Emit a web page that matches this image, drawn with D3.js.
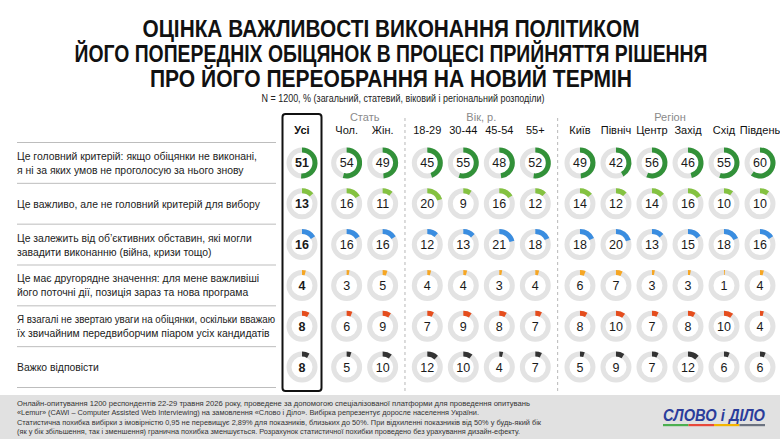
<!DOCTYPE html>
<html lang="uk">
<head>
<meta charset="UTF-8">
<title>Оцінка важливості виконання обіцянок</title>
<script src="https://d3js.org/d3.v7.min.js"></script>
<style>
  body { margin: 0; background: #fff; }
  svg { display: block; font-family: "Liberation Sans", Arial, sans-serif; }
</style>
</head>
<body>
<svg id="chart" width="780" height="439"></svg>
<script>
// --- data ---
const columns = ["Усі", "Чол.", "Жін.", "18-29", "30-44", "45-54", "55+", "Київ", "Північ", "Центр", "Захід", "Схід", "Південь"];
// slot index of each column (groups are separated by a wider gap)
const slots = [0, 1.24, 2.24, 3.48, 4.48, 5.48, 6.48, 7.72, 8.72, 9.72, 10.72, 11.72, 12.72];
const groups = [
  { name: "Стать", from: 1, to: 2 },
  { name: "Вік, р.", from: 3, to: 6 },
  { name: "Регіон", from: 7, to: 12 }
];
const answers = [
  ["Це головний критерій: якщо обіцянки не виконані,", "я ні за яких умов не проголосую за нього знову"],
  ["Це важливо, але не головний критерій для вибору"],
  ["Це залежить від об’єктивних обставин, які могли", "завадити виконанню (війна, кризи тощо)"],
  ["Це має другорядне значення: для мене важливіші", "його поточні дії, позиція зараз та нова програма"],
  ["Я взагалі не звертаю уваги на обіцянки, оскільки вважаю", "їх звичайним передвиборчим піаром усіх кандидатів"],
  ["Важко відповісти"]
];
const values = [
  [51, 54, 49, 45, 55, 48, 52, 49, 42, 56, 46, 55, 60],
  [13, 16, 11, 20, 9, 16, 12, 14, 12, 14, 16, 10, 10],
  [16, 16, 16, 12, 13, 21, 18, 18, 20, 13, 15, 18, 16],
  [4, 3, 5, 4, 4, 3, 4, 6, 7, 3, 3, 1, 4],
  [8, 6, 9, 7, 9, 8, 7, 8, 10, 7, 8, 10, 4],
  [8, 5, 10, 12, 10, 4, 7, 5, 9, 7, 12, 6, 6]
];
const rowColors = ["#329139", "#84c241", "#3a8de0", "#f6a623", "#e54d1d", "#333333"];

const titleLines = [
  "ОЦІНКА ВАЖЛИВОСТІ ВИКОНАННЯ ПОЛІТИКОМ",
  "ЙОГО ПОПЕРЕДНІХ ОБІЦЯНОК В ПРОЦЕСІ ПРИЙНЯТТЯ РІШЕННЯ",
  "ПРО ЙОГО ПЕРЕОБРАННЯ НА НОВИЙ ТЕРМІН"
];
const subtitle = "N = 1200, % (загальний, статевий, віковий і регіональний розподіли)";
const footerLines = [
  "Онлайн-опитування 1200 респондентів 22-29 травня 2026 року, проведене за допомогою спеціалізованої платформи для проведення опитувань",
  "«Lemur» (CAWI – Computer Assisted Web Interviewing) на замовлення «Слово і Діло». Вибірка репрезентує доросле населення України.",
  "Статистична похибка вибірки з імовірністю 0,95 не перевищує 2,89% для показників, близьких до 50%. При відхиленні показників від 50% у будь-який бік",
  "(як у бік збільшення, так і зменшення) гранична похибка зменшується. Розрахунок статистичної похибки проведено без урахування дизайн-ефекту."
];

const svg = d3.select("#chart");

// --- title ---
const titleWidths = [497, 633, 482];
svg.selectAll(".title")
  .data(titleLines)
  .enter().append("text")
  .attr("class", "title")
  .attr("x", 391)
  .attr("y", (d, i) => 37 + i * 25)
  .attr("text-anchor", "middle")
  .attr("font-size", 23.5)
  .attr("font-weight", "bold")
  .attr("fill", "#111")
  .attr("textLength", (d, i) => titleWidths[i])
  .attr("lengthAdjust", "spacingAndGlyphs")
  .text(d => d);

svg.append("text")
  .attr("x", 403)
  .attr("y", 101.5)
  .attr("text-anchor", "middle")
  .attr("font-size", 10)
  .attr("fill", "#222")
  .attr("textLength", 283)
  .attr("lengthAdjust", "spacingAndGlyphs")
  .text(subtitle);

// --- scales ---
const x = d3.scaleLinear().domain([0, 12.72]).range([302, 760]);
const y = d3.scaleBand().domain(d3.range(answers.length)).range([142.5, 387.5]);
const colX = i => x(slots[i]);

// row separators
svg.selectAll(".sep")
  .data(d3.range(answers.length + 1))
  .enter().append("line")
  .attr("x1", 17).attr("x2", 276)
  .attr("y1", i => i < answers.length ? y(i) : y(answers.length - 1) + y.bandwidth())
  .attr("y2", i => i < answers.length ? y(i) : y(answers.length - 1) + y.bandwidth())
  .attr("stroke", "#bdbdbd")
  .attr("stroke-width", 1);

// group dividers (dashed)
[(colX(2) + colX(3)) / 2, (colX(6) + colX(7)) / 2].forEach(dx => {
  svg.append("line")
    .attr("x1", dx).attr("x2", dx)
    .attr("y1", 118).attr("y2", 391)
    .attr("stroke", "#b8b8b8")
    .attr("stroke-dasharray", "3,3");
});

// box around "Усі"
svg.append("rect")
  .attr("x", colX(0) - 19.5).attr("y", 114)
  .attr("width", 39).attr("height", 277)
  .attr("rx", 3)
  .attr("fill", "none")
  .attr("stroke", "#111")
  .attr("stroke-width", 2);

// group headers
svg.selectAll(".group")
  .data(groups)
  .enter().append("text")
  .attr("x", d => (colX(d.from) + colX(d.to)) / 2)
  .attr("y", 120.5)
  .attr("text-anchor", "middle")
  .attr("font-size", 11)
  .attr("fill", "#8a8a8a")
  .text(d => d.name);

// column headers
svg.selectAll(".colh")
  .data(columns)
  .enter().append("text")
  .attr("x", (d, i) => colX(i))
  .attr("y", 134)
  .attr("text-anchor", "middle")
  .attr("font-size", 11)
  .attr("font-weight", (d, i) => i === 0 ? "bold" : "normal")
  .attr("fill", "#111")
  .text(d => d);

// row labels (squeezed if wider than the label column)
const labelMax = 258;
answers.forEach((lines, r) => {
  const cy = y(r) + y.bandwidth() / 2;
  const top = cy - (lines.length - 1) * 7;
  svg.append("text")
    .attr("font-size", 10.4)
    .attr("fill", "#222")
    .selectAll("tspan")
    .data(lines)
    .enter().append("tspan")
    .attr("x", 17)
    .attr("y", (d, i) => top + i * 14 + 4)
    .text(d => d)
    .each(function () {
      if (this.getComputedTextLength() > labelMax) {
        d3.select(this).attr("textLength", labelMax).attr("lengthAdjust", "spacingAndGlyphs");
      }
    });
});

// donuts
const outerR = 15.5, innerR = 10.5;
const arc = d3.arc().innerRadius(innerR).outerRadius(outerR);
const full = 2 * Math.PI;

values.forEach((row, r) => {
  const cy = y(r) + y.bandwidth() / 2;
  const g = svg.append("g");
  const cell = g.selectAll("g")
    .data(row)
    .enter().append("g")
    .attr("transform", (d, i) => `translate(${colX(i)},${cy})`);
  cell.append("path")
    .attr("d", arc({ startAngle: 0, endAngle: full }))
    .attr("fill", "#e3e3e3");
  cell.append("path")
    .attr("d", d => arc({ startAngle: 0, endAngle: full * d / 100 }))
    .attr("fill", rowColors[r]);
  cell.append("text")
    .attr("y", 4.5)
    .attr("text-anchor", "middle")
    .attr("font-size", 12.5)
    .attr("font-weight", (d, i) => i === 0 ? "bold" : "normal")
    .attr("fill", "#1a1a1a")
    .text(d => d);
});

// --- footer ---
svg.append("rect")
  .attr("x", 0).attr("y", 395)
  .attr("width", 780).attr("height", 44)
  .attr("fill", "#e1e1e1");

const footerWidths = [513, 462, 524, 503];
svg.selectAll(".foot")
  .data(footerLines)
  .enter().append("text")
  .attr("x", 17)
  .attr("y", (d, i) => 406 + i * 9.4)
  .attr("font-size", 7.6)
  .attr("fill", "#333")
  .attr("textLength", (d, i) => footerWidths[i])
  .attr("lengthAdjust", "spacingAndGlyphs")
  .text(d => d);

// logo
const logo = svg.append("g").attr("transform", "translate(663,0)");
logo.append("text")
  .attr("x", 0).attr("y", 421)
  .attr("font-size", 17)
  .attr("font-weight", "bold")
  .attr("font-style", "italic")
  .attr("fill", "#2b3d9b")
  .attr("textLength", 102)
  .attr("lengthAdjust", "spacingAndGlyphs")
  .text("СЛОВО і ДІЛО");
const logoBars = ["#4caf50", "#e8483a", "#f4b400", "#6b7280"];
logo.selectAll(".lb")
  .data(logoBars)
  .enter().append("rect")
  .attr("x", (d, i) => i * 25.5)
  .attr("y", 424)
  .attr("width", 25.5)
  .attr("height", 2.2)
  .attr("fill", d => d);
</script>
</body>
</html>
